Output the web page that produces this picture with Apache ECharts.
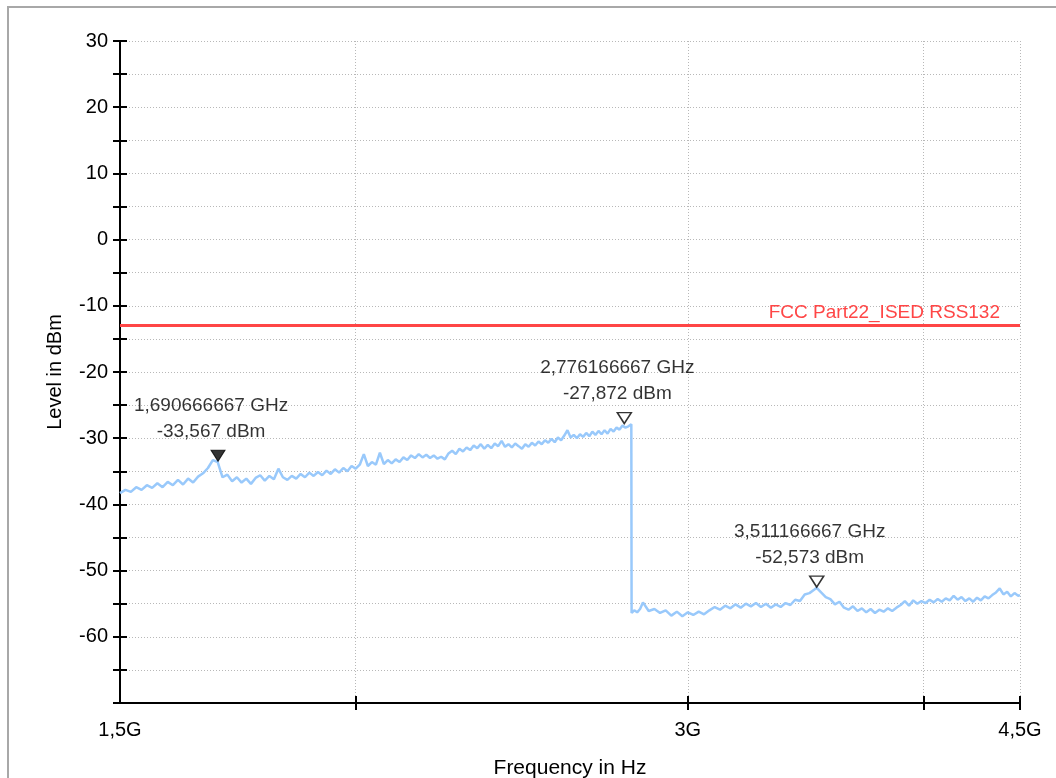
<!DOCTYPE html>
<html>
<head>
<meta charset="utf-8">
<style>
  html, body { margin: 0; padding: 0; background: #fff; }
  #chart { width: 1056px; height: 778px; }
</style>
<script src="https://cdn.jsdelivr.net/npm/echarts@6/dist/echarts.min.js"></script>
</head>
<body>
<div id="chart"></div>
<script>
// sweep data, frequency in GHz, level in dBm
const freqA = [1.50,1.51,1.52,1.53,1.54,1.55,1.56,1.57,1.58,1.59,1.60,1.61,1.62,1.63,1.64,1.65,1.66,1.67,1.68,1.69,
  1.70,1.71,1.72,1.73,1.74,1.75,1.76,1.77,1.78,1.79,1.80,1.81,1.82,1.83,1.84,1.85,1.86,1.87,1.88,1.89,
  1.90,1.91,1.92,1.93,1.94,1.95,1.96,1.97,1.98,1.99,2.00];
const levelA = [-38.3,-37.8,-38.1,-37.4,-37.8,-37.1,-37.5,-36.8,-37.4,-36.6,-37.1,-36.3,-37.0,-36.1,-36.7,-35.8,-35.3,-34.5,-33.3,-33.6,
  -35.9,-35.5,-36.5,-35.9,-36.7,-36.1,-36.9,-36.0,-35.6,-36.4,-35.7,-36.2,-34.6,-35.9,-36.3,-35.7,-36.1,-35.4,-35.9,-35.2,
  -35.7,-35.1,-35.6,-34.9,-35.4,-34.7,-35.2,-34.5,-35.0,-34.2,-34.6];

const freqB = [2.01,2.02,2.03,2.04,2.05,2.06,2.07,2.08,2.09,2.10,2.11,2.12,2.13,2.14,2.15,2.16,2.17,2.18,2.19,2.20,
  2.21,2.22,2.23,2.24,2.25,2.26,2.27,2.28,2.29,2.30,2.31,2.32,2.33,2.34,2.35,2.36,2.37,2.38,2.39,2.40,
  2.41,2.42,2.43,2.44,2.45,2.46,2.47,2.48,2.49,2.50,2.51,2.52,2.53,2.54,2.55,2.56,2.57,2.58,2.59,2.60,
  2.61,2.62,2.63,2.64,2.65,2.66,2.67,2.68,2.69,2.70,2.71,2.72,2.73,2.74,2.75,2.76,2.77,2.776,2.78,2.79,2.80];
const levelB = [-34.0,-32.4,-34.2,-33.6,-34.0,-32.2,-33.9,-33.3,-33.8,-33.2,-33.6,-32.9,-33.3,-32.6,-33.0,-32.4,-32.9,-32.5,-33.0,-32.6,
  -33.1,-32.8,-33.2,-32.3,-31.9,-32.4,-31.6,-32.0,-31.4,-31.8,-31.1,-31.5,-30.9,-31.6,-31.0,-31.5,-30.8,-31.2,-30.4,-31.3,
  -30.9,-31.4,-30.8,-31.2,-31.6,-30.9,-31.3,-30.7,-31.1,-30.5,-30.9,-30.3,-30.7,-30.1,-30.6,-29.9,-30.3,-29.6,-28.8,-29.9,
  -29.5,-30.0,-29.4,-29.8,-29.2,-29.7,-29.0,-29.5,-28.9,-29.4,-28.8,-29.3,-28.6,-29.0,-28.4,-28.7,-28.1,-27.9,-28.4,-28.2,-27.9];

const freqC = [2.801,2.81,2.82,2.83,2.84,2.86,2.88,2.90,2.92,2.94,2.96,2.98,3.00,3.02,3.04,3.06,3.08,3.10,3.12,3.14,
  3.16,3.18,3.20,3.22,3.24,3.26,3.28,3.30,3.32,3.34,3.36,3.38,3.40,3.42,3.44,3.46,3.48,3.50,3.511,3.53,
  3.55,3.57,3.59,3.61,3.63,3.65,3.67,3.69,3.71,3.73,3.75,3.77,3.79,3.81,3.83,3.85,3.87,3.89,3.91,3.93,
  3.95,3.97,3.99,4.01,4.03,4.05,4.07,4.09,4.11,4.13,4.15,4.17,4.19,4.21,4.23,4.25,4.27,4.29,4.31,4.33,
  4.35,4.37,4.39,4.41,4.43,4.45,4.47,4.49,4.50];
const levelC = [-56.4,-56.0,-56.3,-55.8,-54.8,-56.1,-55.8,-56.4,-56.0,-56.8,-56.2,-56.9,-56.3,-56.7,-56.2,-56.6,-56.0,-55.5,-55.9,-55.3,
  -55.7,-55.1,-55.6,-55.0,-55.4,-54.9,-55.5,-55.0,-55.6,-55.1,-55.5,-54.9,-55.2,-54.4,-54.6,-53.6,-53.4,-52.9,-52.6,-53.3,
  -54.0,-54.3,-55.1,-54.7,-55.6,-55.9,-55.4,-56.1,-55.7,-56.3,-55.8,-56.4,-55.9,-56.2,-55.7,-56.1,-55.6,-55.2,-54.6,-55.3,
  -54.5,-55.0,-54.6,-54.9,-54.4,-54.8,-54.3,-54.7,-54.2,-54.5,-53.8,-54.4,-54.0,-54.6,-54.2,-54.7,-54.1,-54.5,-53.9,-54.2,
  -53.7,-53.3,-52.7,-53.6,-53.2,-53.9,-53.4,-53.8,-53.7];

// markers
const markerFreq = [1.690666667, 2.776166667, 3.511166667];
const markerLevel = [-33.567, -27.872, -52.573];

// limit line
const limitLevel = -13;
const limitName = 'FCC Part22_ISED RSS132';

// axis ticks (GHz)
const xTicks = [2, 3, 4, 4.5];
const xLabels = [1.5, 3, 4.5];

const FONT = 'Liberation Sans';
const lg = Math.log10;

let trace = [];
[[freqA, levelA], [freqB, levelB], [freqC, levelC]].forEach(([fs, ls]) => {
  fs.forEach((f, i) => trace.push([lg(f), ls[i]]));
});

const comma = (s) => String(s).replace('.', ',');

let markers = markerFreq.map((f, i) => ({
  value: [lg(f), markerLevel[i]],
  itemStyle: i === 0
    ? { color: '#000', borderColor: '#000', borderWidth: 1 }
    : { color: '#fff', borderColor: '#000', borderWidth: 1.5 },
}));

let chart = echarts.init(document.getElementById('chart'));

const gridLine = { show: true, lineStyle: { color: '#b8b8b8', width: 1, type: [1, 2] } };

let option = {
  animation: false,
  backgroundColor: '#fff',
  textStyle: { fontFamily: FONT },
  graphic: [{
    type: 'rect',
    shape: { x: 8, y: 7, width: 1100, height: 820 },
    style: { fill: 'none', stroke: '#a8a8a8', lineWidth: 2 },
    silent: true,
  }],
  grid: { left: 120, right: 36, top: 41, bottom: 75, containLabel: false, outerBoundsMode: 'none' },
  xAxis: [
    {
      type: 'value',
      min: lg(1.5),
      max: lg(4.5),
      name: 'Frequency in Hz',
      nameLocation: 'middle',
      nameGap: 55,
      nameTextStyle: { color: '#000', fontSize: 21, fontFamily: FONT },
      axisLine: { show: true, onZero: false, lineStyle: { color: '#000', width: 2 } },
      axisTick: { show: true, length: 7, customValues: xTicks.map(lg), lineStyle: { color: '#000', width: 2 } },
      axisLabel: {
        customValues: xLabels.map(lg),
        formatter: (v) => comma(Math.round(Math.pow(10, v) * 10) / 10) + 'G',
        color: '#000', fontSize: 20, margin: 17, fontFamily: FONT,
      },
      splitLine: gridLine,
    },
    {
      type: 'value',
      position: 'bottom',
      min: lg(1.5),
      max: lg(4.5),
      axisLine: { show: false, onZero: false },
      axisTick: { show: true, inside: true, length: 7, customValues: xTicks.map(lg), lineStyle: { color: '#000', width: 2 } },
      axisLabel: { show: false },
      splitLine: { show: false },
    },
  ],
  yAxis: [
    {
      type: 'value',
      min: -70,
      max: 30,
      interval: 5,
      name: 'Level in dBm',
      nameLocation: 'middle',
      nameGap: 55,
      nameTextStyle: { color: '#000', fontSize: 20, fontFamily: FONT },
      axisLine: { show: true, onZero: false, lineStyle: { color: '#000', width: 2 } },
      axisTick: { show: true, length: 7, lineStyle: { color: '#000', width: 2 } },
      axisLabel: {
        formatter: (v) => (v % 10 === 0 && v > -70) ? String(v) : '',
        color: '#000', fontSize: 20, margin: 12, fontFamily: FONT,
      },
      splitLine: gridLine,
    },
    {
      type: 'value',
      position: 'left',
      min: -70,
      max: 30,
      interval: 5,
      axisLine: { show: false, onZero: false },
      axisTick: { show: true, inside: true, length: 7, lineStyle: { color: '#000', width: 2 } },
      axisLabel: { show: false },
      splitLine: { show: false },
    },
  ],
  series: [
    {
      type: 'line',
      data: trace,
      showSymbol: false,
      symbol: 'none',
      lineStyle: { color: '#99c9fb', width: 2.5 },
      z: 3,
      markLine: {
        silent: true,
        symbol: 'none',
        lineStyle: { color: '#ff4646', width: 3, type: 'solid' },
        label: {
          show: true,
          position: 'insideEndTop',
          formatter: limitName,
          color: '#ff4646',
          fontSize: 19,
          fontFamily: FONT,
          distance: [20, 3],
        },
        data: [{ yAxis: limitLevel }],
      },
    },
    {
      type: 'scatter',
      data: markers,
      symbol: 'triangle',
      symbolRotate: 180,
      symbolSize: [14, 11],
      symbolOffset: [0, -6],
      z: 5,
      label: {
        show: true,
        position: 'top',
        distance: 5,
        offset: [-7, 0],
        color: '#000',
        fontSize: 19,
        lineHeight: 26,
        fontFamily: FONT,
        formatter: (p) => {
          const i = p.dataIndex;
          return markerFreq[i].toFixed(9).replace('.', ',') + ' GHz\n' +
            markerLevel[i].toFixed(3).replace('.', ',') + ' dBm';
        },
      },
    },
  ],
};

chart.setOption(option);
</script>
</body>
</html>
